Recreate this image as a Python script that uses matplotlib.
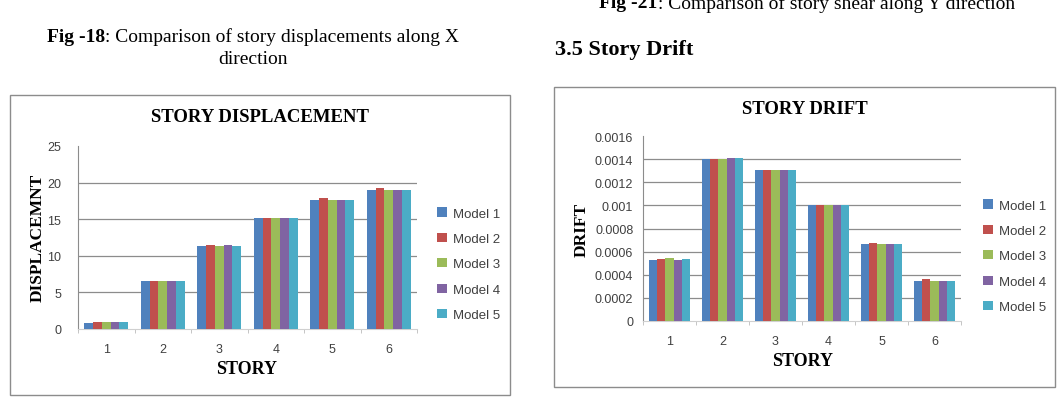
import numpy as np
import matplotlib.pyplot as plt
from matplotlib.patches import Rectangle

# data
stories = ['1', '2', '3', '4', '5', '6']
models = ['Model 1', 'Model 2', 'Model 3', 'Model 4', 'Model 5']
colors = ['#4F81BD', '#C0504D', '#9BBB59', '#8064A2', '#4BACC6']

disp_m1 = [0.82, 6.55, 11.3, 15.15, 17.6, 19.0]
disp_m2 = [1.0, 6.55, 11.45, 15.15, 17.9, 19.3]
disp_m3 = [1.0, 6.55, 11.3, 15.15, 17.6, 19.0]
disp_m4 = [1.0, 6.55, 11.45, 15.15, 17.6, 19.0]
disp_m5 = [1.0, 6.55, 11.3, 15.15, 17.6, 19.0]

drift_m1 = [0.000525, 0.00140, 0.00131, 0.00100, 0.000663, 0.000343]
drift_m2 = [0.000537, 0.00140, 0.00131, 0.00100, 0.000672, 0.000360]
drift_m3 = [0.000546, 0.00140, 0.00131, 0.00100, 0.000663, 0.000343]
drift_m4 = [0.000525, 0.00141, 0.00131, 0.00100, 0.000663, 0.000350]
drift_m5 = [0.000537, 0.00141, 0.00131, 0.00100, 0.000663, 0.000343]

W, H = 1063, 406
fig = plt.figure(figsize=(W / 100, H / 100), dpi=100)
renderer = fig.canvas.get_renderer()
serif = 'Liberation Serif'
sans = 'Liberation Sans'

def px_axes(x0, y0, x1, y1):
    return fig.add_axes([x0 / W, 1 - y1 / H, (x1 - x0) / W, (y1 - y0) / H])

def frame(x0, y0, x1, y1):
    fig.patches.append(Rectangle((x0 / W, 1 - y1 / H), (x1 - x0) / W, (y1 - y0) / H,
                                 transform=fig.transFigure, fill=False,
                                 edgecolor='#8c8c8c', linewidth=1.0))

def caption(cx, y, bold, rest, size):
    # bold part followed by regular part, centred on cx as one line
    t1 = fig.text(0, 1 - y / H, bold, fontsize=size, family=serif, weight='bold', va='center')
    t2 = fig.text(0, 1 - y / H, rest, fontsize=size, family=serif, va='center')
    w1 = t1.get_window_extent(renderer).width
    w2 = t2.get_window_extent(renderer).width
    x0 = cx - (w1 + w2) / 2
    t1.set_x(x0 / W)
    t2.set_x((x0 + w1) / W)

def bar_chart(ax, series, yticks, ylim, ticklabels, ypad):
    x = np.arange(len(stories))
    bw = 0.154
    for i, vals in enumerate(series):
        ax.bar(x + (i - 2) * bw, vals, bw, color=colors[i], label=models[i], zorder=3)
    ax.set_xlim(-0.5, len(stories) - 0.5)
    ax.set_ylim(*ylim)
    ax.set_yticks(yticks)
    ax.set_yticklabels(ticklabels, fontsize=9, color='#404040', family=sans)
    ax.set_xticks(x)
    ax.set_xticklabels(stories, fontsize=9, color='#404040', family=sans)
    ax.set_xticks(np.arange(-0.5, len(stories)), minor=True)
    ax.tick_params(axis='x', which='major', length=0, pad=10)
    ax.tick_params(axis='x', which='minor', length=3, color='#bbbbbb')
    ax.tick_params(axis='y', length=0, pad=ypad)
    for t in yticks[1:-1]:
        ax.axhline(t, color='#8c8c8c', linewidth=0.9, zorder=1)
    for s in ['top', 'right']:
        ax.spines[s].set_visible(False)
    ax.spines['left'].set_color('#8c8c8c')
    ax.spines['bottom'].set_color('#d0d0d0')

# captions and heading
caption(253, 37, 'Fig -18', ': Comparison of story displacements along X', 14)
fig.text(253 / W, 1 - 60 / H, 'direction', fontsize=14, family=serif, va='center', ha='center')
caption(807, 4, 'Fig -21', ': Comparison of story shear along Y direction', 14)
fig.text(555 / W, 1 - 50 / H, '3.5 Story Drift', fontsize=16, family=serif, weight='bold',
         va='center', ha='left')

# left chart
frame(10, 96, 510, 396)
ax1 = px_axes(78, 147, 417, 330)
bar_chart(ax1, [disp_m1, disp_m2, disp_m3, disp_m4, disp_m5],
          [0, 5, 10, 15, 20, 25], (0, 25), ['0', '5', '10', '15', '20', '25'], 12)
fig.text(260 / W, 1 - 118 / H, 'STORY DISPLACEMENT', fontsize=13.5, family=serif,
         weight='bold', ha='center', va='center')
fig.text(38 / W, 1 - 238 / H, 'DISPLACEMNT', fontsize=12.5, family=serif, weight='bold',
         rotation=90, ha='center', va='center')
fig.text(247 / W, 1 - 370 / H, 'STORY', fontsize=13, family=serif, weight='bold',
         ha='center', va='center')
ax1.legend(loc='upper left', bbox_to_anchor=((432 - 78) / 339, (330 - 203) / 183),
           frameon=False, handlelength=0.7, handleheight=0.7, handletextpad=0.5,
           labelspacing=1.0, prop={'family': sans, 'size': 9.5},
           labelcolor='#404040', borderaxespad=0)

# right chart
frame(554, 88, 1055, 388)
ax2 = px_axes(643, 137, 961, 322)
dt = [0, 0.0002, 0.0004, 0.0006, 0.0008, 0.001, 0.0012, 0.0014, 0.0016]
bar_chart(ax2, [drift_m1, drift_m2, drift_m3, drift_m4, drift_m5],
          dt, (0, 0.0016), ['0', '0.0002', '0.0004', '0.0006', '0.0008', '0.001',
                            '0.0012', '0.0014', '0.0016'], 7)
fig.text(805 / W, 1 - 110 / H, 'STORY DRIFT', fontsize=13.5, family=serif,
         weight='bold', ha='center', va='center')
fig.text(582 / W, 1 - 230 / H, 'DRIFT', fontsize=12.5, family=serif, weight='bold',
         rotation=90, ha='center', va='center')
fig.text(803 / W, 1 - 362 / H, 'STORY', fontsize=13, family=serif, weight='bold',
         ha='center', va='center')
ax2.legend(loc='upper left', bbox_to_anchor=((978 - 643) / 318, (322 - 195) / 185),
           frameon=False, handlelength=0.7, handleheight=0.7, handletextpad=0.5,
           labelspacing=1.0, prop={'family': sans, 'size': 9.5},
           labelcolor='#404040', borderaxespad=0)

fig.savefig('out.png', dpi=100)
